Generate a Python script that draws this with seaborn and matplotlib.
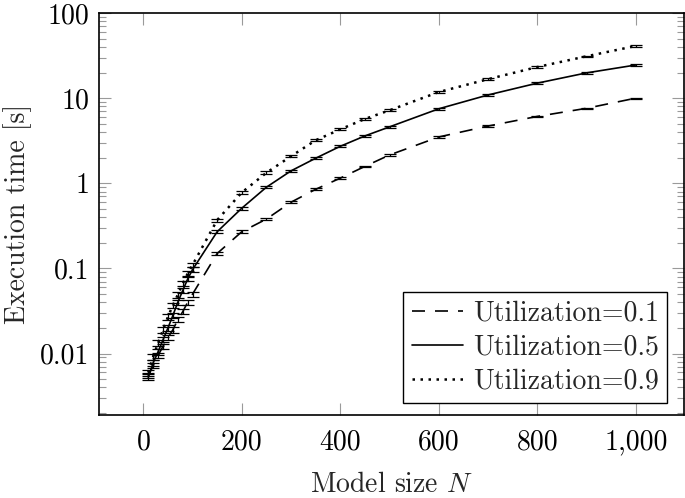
import matplotlib
matplotlib.use("Agg")
import numpy as np
import pandas as pd
import matplotlib.pyplot as plt
import seaborn as sns
from matplotlib.ticker import FixedLocator, LogLocator, NullFormatter

# ---- data ----
N = [10, 20, 30, 40, 50, 60, 70, 80, 90, 100, 150, 200, 250, 300, 350, 400,
     450, 500, 600, 700, 800, 900, 1000]

time_u01 = [0.0055, 0.0072, 0.0095, 0.0122, 0.0155, 0.019, 0.025, 0.031, 0.040,
            0.050, 0.15, 0.27, 0.38, 0.60, 0.85, 1.15, 1.58, 2.15, 3.5, 4.7,
            6.1, 7.6, 10.0]
err_u01 = [0.0004, 0.0005, 0.0007, 0.0009, 0.0011, 0.0014, 0.0018, 0.0022,
           0.0028, 0.0035, 0.006, 0.01, 0.012, 0.015, 0.02, 0.025, 0.03, 0.04,
           0.06, 0.08, 0.1, 0.12, 0.15]

time_u05 = [0.0053, 0.0078, 0.0105, 0.0145, 0.020, 0.028, 0.040, 0.055, 0.075,
            0.097, 0.27, 0.51, 0.90, 1.40, 1.97, 2.72, 3.6, 4.6, 7.5, 10.9,
            15.0, 19.8, 24.5]
err_u05 = [0.0004, 0.0006, 0.0008, 0.0010, 0.0014, 0.0020, 0.0028, 0.0035,
           0.0045, 0.006, 0.012, 0.02, 0.03, 0.04, 0.05, 0.06, 0.08, 0.10,
           0.15, 0.2, 0.3, 0.35, 0.5]

time_u09 = [0.0060, 0.0092, 0.0133, 0.019, 0.027, 0.037, 0.049, 0.066, 0.087,
            0.11, 0.37, 0.78, 1.33, 2.08, 3.2, 4.3, 5.7, 7.2, 11.8, 16.7,
            23.2, 31.0, 41.0]
err_u09 = [0.0005, 0.0007, 0.001, 0.0014, 0.002, 0.0028, 0.0035, 0.0045,
           0.006, 0.007, 0.015, 0.03, 0.05, 0.07, 0.1, 0.12, 0.15, 0.2, 0.3,
           0.4, 0.5, 0.6, 0.8]

series_labels = ["Utilization=0.1", "Utilization=0.5", "Utilization=0.9"]
x_ticks = [0, 200, 400, 600, 800, 1000]
x_tick_labels = ["0", "200", "400", "600", "800", "1,000"]
y_ticks = [0.01, 0.1, 1, 10, 100]
y_tick_labels = ["0.01", "0.1", "1", "10", "100"]

# ---- style ----
sns.set_theme(style="white")
plt.rcParams['font.family'] = ['cmr10', 'DejaVu Serif']
plt.rcParams['mathtext.fontset'] = 'cm'
plt.rcParams['axes.formatter.use_mathtext'] = True
plt.rcParams['axes.unicode_minus'] = False

FS = 20
LW = 1.2

df = pd.DataFrame({
    "N": N * 3,
    "time": time_u01 + time_u05 + time_u09,
    "series": [series_labels[0]] * len(N) + [series_labels[1]] * len(N)
              + [series_labels[2]] * len(N),
})

fig = plt.figure(figsize=(6.85, 4.98), dpi=100)
ax = fig.add_axes([99 / 685, 83 / 498, 585 / 685, 402 / 498])

dash_styles = {series_labels[0]: (7.8, 6), series_labels[1]: "",
               series_labels[2]: (1, 2.2)}
sns.lineplot(data=df, x="N", y="time", style="series",
             style_order=series_labels, dashes=dash_styles,
             color="black", linewidth=LW, ax=ax, legend=True)
# dotted series drawn a bit heavier, like the reference
lines = ax.get_lines()
lines[2].set_linewidth(1.8)

for t, e in [(time_u01, err_u01), (time_u05, err_u05), (time_u09, err_u09)]:
    ax.errorbar(N, t, yerr=e, fmt="none", ecolor="black", elinewidth=0.9,
                capsize=4.5, capthick=0.9)

ax.set_yscale("log")
ax.set_xlim(-90, 1098)
ax.set_ylim(0.0019, 100)

ax.xaxis.set_major_locator(FixedLocator(x_ticks))
ax.set_xticklabels(x_tick_labels)
ax.yaxis.set_major_locator(FixedLocator(y_ticks))
ax.set_yticklabels(y_tick_labels)
ax.yaxis.set_minor_locator(LogLocator(base=10, subs=np.arange(2, 10)))
ax.yaxis.set_minor_formatter(NullFormatter())
ax.xaxis.set_minor_locator(FixedLocator([]))

ax.tick_params(axis="both", which="both", direction="in", color="#9a9a9a",
               top=True, right=True, bottom=True, left=True, width=0.8,
               labelsize=FS, labelcolor="black")
ax.tick_params(axis="both", which="major", length=8.5)
ax.tick_params(axis="both", which="minor", length=5)
ax.tick_params(axis="x", which="major", pad=10)
ax.tick_params(axis="y", which="major", pad=7)

for s in ax.spines.values():
    s.set_color("black")
    s.set_linewidth(1.2)

ax.set_xlabel("Model size $N$", fontsize=FS)
ax.set_ylabel("Execution time [s]", fontsize=FS)
ax.xaxis.set_label_coords(0.5, -0.14)
ax.yaxis.set_label_coords(-0.115, 0.5)

handles, labels = ax.get_legend_handles_labels()
for h in handles:
    h.set_color("black")
    h.set_linewidth(LW)
handles[2].set_linewidth(1.8)
leg = ax.legend(handles, labels, loc="lower right",
                bbox_to_anchor=(0.971, 0.03), borderaxespad=0,
                frameon=True, fancybox=False, edgecolor="black",
                framealpha=1, handlelength=1.85, handletextpad=0.35,
                labelspacing=0.28, borderpad=0.3, fontsize=FS)
leg.get_frame().set_linewidth(1.0)

fig.savefig("out.png", dpi=100)
